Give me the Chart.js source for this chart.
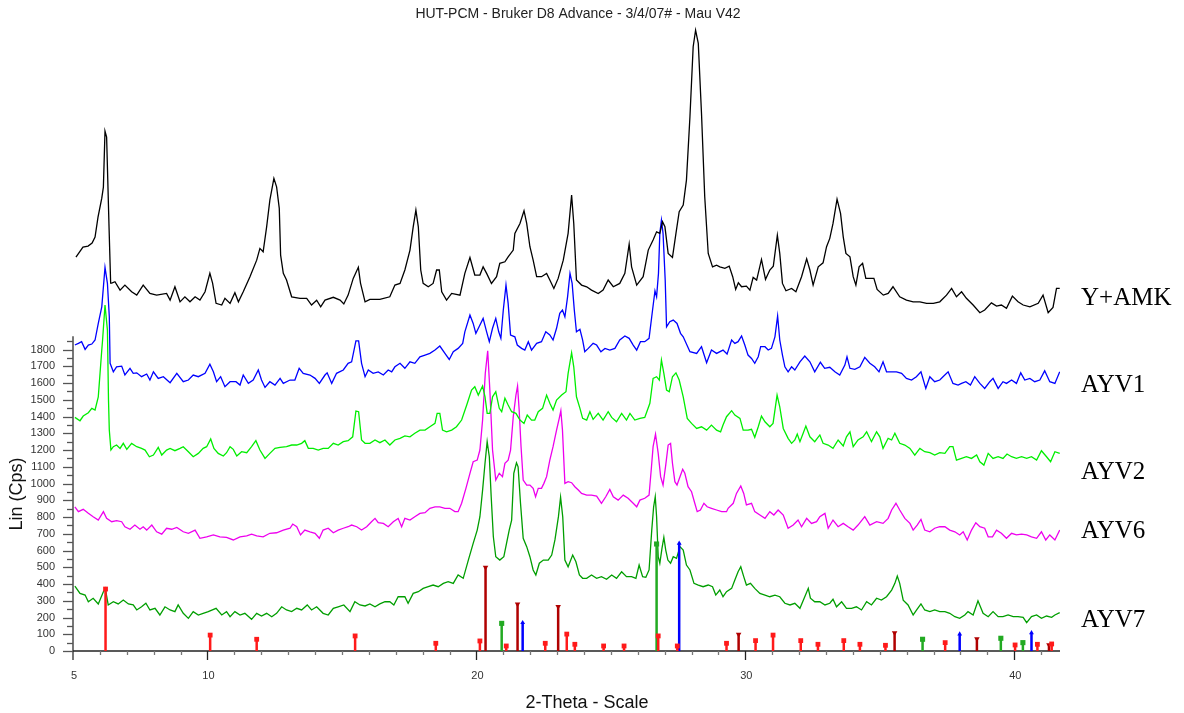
<!DOCTYPE html>
<html>
<head>
<meta charset="utf-8">
<script src="https://cdn.jsdelivr.net/npm/chart.js@4/dist/chart.umd.min.js"></script>
<style>
  html, body { margin: 0; padding: 0; background: #fff; }
  #wrap { position: relative; width: 1184px; height: 713px; }
</style>
</head>
<body>
<div id="wrap"><canvas id="xrdChart" width="1184" height="713"></canvas></div>
<script>
// ============================================
// XRD — HUT-PCM Bruker D8 Advance (stacked scans)
// ============================================

const chartTitle = 'HUT-PCM - Bruker D8 Advance - 3/4/07# - Mau V42';
const xTitle = '2-Theta - Scale';
const yTitle = 'Lin (Cps)';
const sampleNames = ['Y+AMK', 'AYV1', 'AYV2', 'AYV6', 'AYV7'];
const xTickLabels = [5, 10, 20, 30, 40];
const yTickLabels = [0, 100, 200, 300, 400, 500, 600, 700, 800, 900, 1000, 1100, 1200, 1300, 1400, 1500, 1600, 1700, 1800];

// [2-theta, Cps]
const scanYAMK = [[5.11,2352],[5.37,2412],[5.56,2418],[5.71,2436],[5.82,2472],[5.93,2591],[6.07,2704],[6.13,2770],[6.19,3104],[6.25,3069],[6.34,2531],[6.40,2197],[6.44,2197],[6.56,2205],[6.75,2155],[6.93,2185],[7.18,2145],[7.37,2125],[7.61,2185],[7.86,2135],[8.11,2125],[8.48,2135],[8.61,2095],[8.79,2175],[8.98,2085],[9.16,2115],[9.35,2085],[9.54,2115],[9.72,2095],[9.91,2145],[10.09,2255],[10.19,2197],[10.32,2076],[10.53,2066],[10.65,2106],[10.84,2076],[11.02,2139],[11.15,2085],[11.33,2145],[11.58,2235],[11.83,2334],[11.95,2404],[12.07,2384],[12.20,2533],[12.32,2692],[12.47,2822],[12.57,2772],[12.67,2643],[12.72,2364],[12.82,2255],[12.94,2215],[13.13,2115],[13.44,2106],[13.69,2106],[13.87,2066],[14.06,2095],[14.21,2055],[14.37,2095],[14.68,2112],[14.93,2095],[15.07,2072],[15.23,2125],[15.42,2225],[15.61,2291],[15.69,2197],[15.86,2085],[16.04,2100],[16.41,2100],[16.78,2115],[16.97,2185],[17.16,2195],[17.34,2275],[17.53,2394],[17.65,2533],[17.75,2633],[17.84,2533],[17.93,2275],[18.02,2195],[18.21,2175],[18.39,2195],[18.52,2275],[18.62,2275],[18.71,2145],[18.89,2095],[19.08,2135],[19.39,2125],[19.57,2255],[19.76,2350],[19.94,2245],[20.13,2245],[20.25,2294],[20.38,2255],[20.56,2195],[20.75,2235],[20.87,2315],[21.06,2324],[21.18,2354],[21.37,2394],[21.43,2494],[21.62,2553],[21.77,2629],[21.87,2553],[21.99,2414],[22.11,2334],[22.24,2235],[22.42,2235],[22.61,2255],[22.73,2215],[22.88,2165],[23.04,2225],[23.23,2334],[23.41,2494],[23.54,2722],[23.62,2553],[23.72,2215],[23.91,2185],[24.10,2175],[24.28,2155],[24.53,2135],[24.71,2155],[24.90,2215],[25.09,2175],[25.33,2195],[25.52,2255],[25.68,2430],[25.77,2294],[25.96,2185],[26.20,2235],[26.39,2394],[26.57,2454],[26.70,2503],[26.82,2494],[26.92,2563],[27.01,2533],[27.13,2374],[27.29,2350],[27.42,2494],[27.54,2623],[27.69,2663],[27.81,2812],[27.94,3190],[28.06,3608],[28.15,3707],[28.25,3628],[28.37,3210],[28.49,2712],[28.62,2374],[28.78,2294],[28.93,2304],[29.05,2294],[29.24,2285],[29.40,2298],[29.53,2235],[29.64,2159],[29.74,2199],[29.86,2175],[30.04,2179],[30.17,2155],[30.29,2231],[30.42,2215],[30.60,2338],[30.75,2219],[30.91,2275],[31.04,2298],[31.19,2483],[31.28,2374],[31.38,2195],[31.51,2151],[31.72,2165],[31.88,2145],[32.09,2235],[32.28,2342],[32.40,2275],[32.52,2185],[32.71,2294],[32.89,2318],[33.02,2414],[33.14,2464],[33.26,2553],[33.41,2698],[33.54,2613],[33.64,2473],[33.74,2374],[33.89,2354],[34.01,2235],[34.11,2185],[34.23,2294],[34.36,2315],[34.48,2225],[34.63,2225],[34.78,2225],[34.90,2159],[35.13,2125],[35.31,2135],[35.49,2175],[35.74,2115],[35.99,2095],[36.24,2085],[36.49,2085],[36.74,2076],[36.99,2076],[37.23,2085],[37.48,2125],[37.67,2165],[37.85,2115],[38.04,2145],[38.22,2106],[38.47,2066],[38.72,2020],[38.90,2036],[39.15,2079],[39.34,2060],[39.52,2066],[39.71,2046],[39.93,2119],[40.14,2085],[40.33,2066],[40.58,2055],[40.89,2076],[41.07,2125],[41.26,2020],[41.44,2052],[41.57,2165],[41.69,2165]];

const scanAYV1 = [[5.07,1827],[5.20,1837],[5.32,1847],[5.45,1801],[5.57,1827],[5.70,1833],[5.82,1857],[5.94,1956],[6.07,2055],[6.19,2291],[6.28,2195],[6.35,1996],[6.38,1718],[6.50,1667],[6.62,1697],[6.81,1701],[6.93,1648],[7.12,1688],[7.24,1658],[7.37,1661],[7.55,1638],[7.74,1654],[7.86,1618],[7.99,1667],[8.17,1628],[8.36,1638],[8.61,1602],[8.86,1658],[9.10,1608],[9.29,1618],[9.47,1648],[9.66,1638],[9.91,1658],[10.09,1712],[10.22,1667],[10.34,1608],[10.49,1638],[10.65,1578],[10.84,1608],[11.06,1608],[11.21,1588],[11.33,1648],[11.52,1598],[11.70,1618],[11.89,1678],[12.01,1618],[12.14,1574],[12.32,1608],[12.51,1588],[12.70,1628],[12.82,1598],[13.07,1618],[13.25,1618],[13.41,1688],[13.56,1658],[13.81,1648],[14.00,1628],[14.16,1598],[14.37,1648],[14.45,1661],[14.62,1598],[14.80,1658],[15.05,1678],[15.23,1718],[15.36,1727],[15.52,1852],[15.62,1852],[15.73,1718],[15.86,1638],[15.98,1678],[16.16,1658],[16.35,1667],[16.54,1648],[16.72,1678],[16.85,1667],[16.97,1697],[17.16,1718],[17.34,1688],[17.53,1727],[17.71,1718],[17.90,1757],[18.09,1767],[18.27,1777],[18.46,1797],[18.64,1821],[18.83,1777],[18.99,1741],[19.14,1787],[19.32,1807],[19.49,1837],[19.57,1906],[19.76,2006],[19.88,1956],[19.98,1897],[20.10,1936],[20.25,1986],[20.38,1906],[20.48,1847],[20.60,1927],[20.72,1986],[20.83,1906],[20.91,1867],[21.00,2036],[21.10,2185],[21.18,2076],[21.27,1887],[21.43,1876],[21.52,1827],[21.68,1807],[21.80,1797],[21.93,1847],[22.05,1797],[22.24,1837],[22.42,1847],[22.58,1906],[22.73,1887],[22.85,1857],[22.98,1927],[23.10,2016],[23.20,2036],[23.29,1996],[23.39,2115],[23.48,2255],[23.56,2195],[23.64,2036],[23.72,1906],[23.85,1921],[23.95,1857],[24.03,1787],[24.16,1807],[24.34,1837],[24.47,1827],[24.63,1787],[24.78,1807],[24.96,1797],[25.15,1807],[25.33,1857],[25.52,1881],[25.68,1867],[25.83,1827],[25.96,1797],[26.10,1847],[26.26,1847],[26.42,1867],[26.55,2036],[26.64,2151],[26.70,2115],[26.77,2255],[26.82,2494],[26.88,2573],[26.94,2494],[27.02,2215],[27.07,1936],[27.19,1966],[27.32,1976],[27.46,1956],[27.59,1897],[27.69,1876],[27.94,1787],[28.19,1777],[28.37,1817],[28.56,1721],[28.74,1797],[28.93,1777],[29.17,1797],[29.32,1773],[29.49,1857],[29.61,1837],[29.73,1847],[29.86,1881],[29.98,1827],[30.10,1767],[30.23,1747],[30.35,1718],[30.48,1757],[30.57,1817],[30.73,1817],[30.85,1797],[30.97,1807],[31.10,1876],[31.20,2000],[31.28,1857],[31.38,1767],[31.47,1697],[31.59,1667],[31.72,1697],[31.84,1678],[32.03,1727],[32.21,1761],[32.40,1727],[32.58,1667],[32.79,1724],[32.95,1688],[33.14,1694],[33.33,1667],[33.51,1648],[33.70,1707],[33.78,1757],[33.89,1688],[34.07,1682],[34.26,1697],[34.44,1753],[34.63,1718],[34.81,1697],[34.97,1667],[35.12,1727],[35.25,1667],[35.44,1667],[35.62,1667],[35.81,1658],[35.99,1628],[36.18,1618],[36.36,1638],[36.53,1667],[36.71,1568],[36.86,1638],[37.04,1608],[37.23,1618],[37.35,1638],[37.54,1667],[37.72,1598],[37.91,1588],[38.04,1598],[38.20,1608],[38.37,1588],[38.53,1638],[38.72,1598],[38.90,1568],[39.09,1608],[39.21,1628],[39.40,1568],[39.58,1608],[39.71,1598],[39.90,1618],[40.08,1598],[40.24,1661],[40.39,1618],[40.58,1628],[40.76,1608],[40.95,1618],[41.13,1673],[41.32,1608],[41.51,1598],[41.69,1667]];

const scanAYV2 = [[5.07,1395],[5.26,1375],[5.38,1403],[5.57,1423],[5.70,1449],[5.82,1439],[5.94,1518],[6.07,1797],[6.10,1857],[6.19,2066],[6.28,1916],[6.32,1498],[6.35,1319],[6.41,1200],[6.50,1220],[6.62,1230],[6.75,1210],[6.87,1240],[7.00,1204],[7.18,1240],[7.37,1220],[7.55,1210],[7.68,1200],[7.84,1160],[7.99,1170],[8.17,1216],[8.30,1170],[8.48,1200],[8.61,1210],[8.79,1196],[8.98,1210],[9.10,1220],[9.29,1190],[9.47,1160],[9.66,1180],[9.84,1210],[9.97,1220],[10.12,1266],[10.24,1210],[10.40,1180],[10.59,1164],[10.71,1184],[10.84,1220],[10.96,1204],[11.09,1164],[11.27,1190],[11.46,1184],[11.64,1220],[11.80,1256],[11.95,1200],[12.14,1150],[12.32,1180],[12.51,1210],[12.70,1216],[12.94,1220],[13.13,1230],[13.32,1230],[13.50,1240],[13.62,1256],[13.75,1210],[13.93,1210],[14.12,1200],[14.30,1210],[14.49,1210],[14.68,1240],[14.86,1230],[15.05,1250],[15.23,1256],[15.40,1279],[15.52,1433],[15.62,1429],[15.73,1260],[15.86,1240],[16.04,1240],[16.23,1260],[16.41,1244],[16.60,1260],[16.78,1230],[16.97,1260],[17.16,1270],[17.34,1284],[17.53,1279],[17.71,1300],[17.90,1319],[18.09,1319],[18.27,1339],[18.46,1359],[18.54,1419],[18.64,1419],[18.74,1319],[18.89,1309],[19.08,1319],[19.26,1339],[19.45,1379],[19.64,1469],[19.82,1558],[19.94,1578],[20.07,1528],[20.23,1582],[20.32,1518],[20.40,1419],[20.50,1419],[20.60,1518],[20.72,1548],[20.85,1449],[20.94,1429],[21.06,1509],[21.18,1469],[21.31,1429],[21.47,1419],[21.62,1379],[21.77,1359],[21.89,1409],[22.05,1379],[22.17,1379],[22.30,1429],[22.46,1449],[22.61,1528],[22.73,1479],[22.85,1439],[22.98,1498],[23.17,1528],[23.33,1548],[23.41,1658],[23.54,1781],[23.62,1697],[23.72,1518],[23.85,1449],[23.95,1389],[24.10,1379],[24.22,1429],[24.34,1383],[24.53,1419],[24.71,1379],[24.90,1429],[25.03,1395],[25.21,1369],[25.40,1419],[25.58,1379],[25.71,1419],[25.89,1379],[26.08,1389],[26.26,1395],[26.45,1479],[26.57,1628],[26.70,1638],[26.80,1618],[26.88,1737],[26.97,1658],[27.07,1558],[27.17,1548],[27.29,1638],[27.42,1661],[27.54,1618],[27.69,1518],[27.84,1389],[28.00,1359],[28.19,1329],[28.37,1339],[28.56,1319],[28.74,1349],[28.93,1319],[29.08,1309],[29.17,1349],[29.30,1399],[29.49,1435],[29.61,1409],[29.80,1389],[29.92,1319],[30.10,1319],[30.23,1324],[30.35,1276],[30.48,1339],[30.60,1403],[30.73,1369],[30.91,1339],[31.03,1359],[31.18,1528],[31.28,1458],[31.41,1329],[31.59,1270],[31.72,1240],[31.84,1260],[31.93,1295],[32.03,1250],[32.15,1300],[32.25,1343],[32.40,1279],[32.58,1250],[32.77,1290],[32.89,1240],[33.08,1230],[33.26,1210],[33.45,1260],[33.64,1224],[33.76,1279],[33.89,1309],[34.01,1220],[34.19,1260],[34.38,1279],[34.51,1309],[34.69,1250],[34.88,1309],[35.00,1279],[35.12,1210],[35.31,1270],[35.44,1260],[35.56,1300],[35.74,1240],[35.93,1230],[36.12,1210],[36.30,1170],[36.49,1210],[36.67,1190],[36.86,1184],[37.04,1170],[37.23,1184],[37.42,1180],[37.60,1220],[37.72,1220],[37.85,1140],[38.04,1150],[38.22,1160],[38.41,1150],[38.60,1170],[38.72,1130],[38.87,1110],[39.03,1180],[39.21,1150],[39.40,1160],[39.58,1150],[39.73,1176],[39.90,1160],[40.08,1150],[40.27,1160],[40.46,1150],[40.64,1160],[40.83,1140],[41.01,1196],[41.20,1160],[41.35,1130],[41.51,1190],[41.69,1180]];

const scanAYV6 = [[5.07,861],[5.20,832],[5.38,846],[5.57,822],[5.75,802],[5.94,782],[6.13,832],[6.25,792],[6.44,772],[6.62,778],[6.81,772],[6.93,742],[7.12,727],[7.30,752],[7.49,727],[7.61,742],[7.74,722],[7.93,752],[8.11,712],[8.30,698],[8.48,733],[8.67,727],[8.86,738],[9.10,712],[9.29,703],[9.54,722],[9.72,673],[9.97,682],[10.22,693],[10.46,682],[10.71,679],[10.96,663],[11.21,682],[11.46,687],[11.64,698],[11.83,687],[12.07,682],[12.32,703],[12.57,706],[12.82,722],[13.07,733],[13.17,758],[13.32,742],[13.46,693],[13.62,722],[13.81,712],[14.00,703],[14.16,673],[14.30,722],[14.49,733],[14.68,706],[14.86,722],[15.05,733],[15.23,742],[15.36,752],[15.55,742],[15.73,722],[15.92,742],[16.10,772],[16.23,792],[16.35,766],[16.54,762],[16.72,742],[16.91,772],[17.09,792],[17.22,742],[17.34,792],[17.53,782],[17.71,802],[17.90,822],[18.09,826],[18.27,852],[18.46,861],[18.64,861],[18.83,852],[19.01,852],[19.20,832],[19.32,832],[19.45,882],[19.61,971],[19.76,1061],[19.88,1130],[20.03,1140],[20.13,1200],[20.23,1379],[20.33,1658],[20.42,1793],[20.50,1558],[20.60,1200],[20.72,1021],[20.85,1061],[20.97,1041],[21.06,1121],[21.18,1140],[21.27,1200],[21.37,1399],[21.47,1528],[21.53,1582],[21.59,1439],[21.66,1220],[21.74,1021],[21.87,991],[21.99,991],[22.11,971],[22.20,921],[22.30,971],[22.42,971],[22.51,1001],[22.61,1041],[22.73,1140],[22.85,1220],[22.98,1319],[23.08,1389],[23.14,1435],[23.20,1319],[23.29,1001],[23.41,1011],[23.54,1005],[23.66,981],[23.79,961],[23.91,941],[24.10,931],[24.28,931],[24.47,925],[24.65,882],[24.81,921],[24.96,965],[25.09,921],[25.27,901],[25.46,931],[25.64,912],[25.83,882],[25.96,861],[26.08,901],[26.26,912],[26.42,931],[26.51,1100],[26.57,1220],[26.66,1295],[26.76,1180],[26.85,1041],[26.94,991],[27.04,1110],[27.13,1230],[27.22,1240],[27.29,1121],[27.38,1011],[27.46,991],[27.57,1041],[27.67,1085],[27.75,1061],[27.87,981],[28.00,951],[28.12,882],[28.21,832],[28.33,842],[28.46,882],[28.58,861],[28.74,852],[28.93,842],[29.12,832],[29.30,832],[29.36,852],[29.55,882],[29.67,941],[29.83,985],[29.94,941],[30.04,872],[30.23,882],[30.35,832],[30.54,812],[30.73,792],[30.91,832],[31.06,812],[31.22,842],[31.41,812],[31.59,733],[31.78,752],[31.96,782],[32.09,742],[32.28,792],[32.46,762],[32.65,772],[32.77,802],[32.96,822],[33.08,733],[33.26,782],[33.45,742],[33.64,762],[33.82,742],[34.01,722],[34.19,752],[34.44,802],[34.63,752],[34.88,772],[35.12,762],[35.31,792],[35.44,842],[35.60,882],[35.74,842],[35.93,792],[36.12,762],[36.24,722],[36.39,752],[36.53,786],[36.67,722],[36.86,712],[37.04,733],[37.23,742],[37.42,742],[37.60,722],[37.79,712],[37.97,693],[38.10,712],[38.25,663],[38.41,722],[38.57,766],[38.72,742],[38.90,733],[39.03,682],[39.19,682],[39.34,722],[39.52,703],[39.71,673],[39.90,703],[40.08,693],[40.27,698],[40.46,693],[40.64,682],[40.83,673],[41.01,712],[41.17,663],[41.32,693],[41.51,663],[41.69,722]];

const scanAYV7 = [[5.07,388],[5.26,344],[5.45,334],[5.57,294],[5.75,315],[5.94,281],[6.13,354],[6.20,374],[6.31,275],[6.50,294],[6.68,281],[6.87,304],[7.06,281],[7.24,275],[7.37,245],[7.55,264],[7.71,285],[7.86,245],[8.05,255],[8.23,215],[8.42,264],[8.61,245],[8.79,235],[8.91,275],[9.10,225],[9.29,195],[9.47,235],[9.66,215],[9.84,225],[10.03,235],[10.32,255],[10.53,215],[10.71,235],[10.84,205],[11.02,235],[11.21,215],[11.39,225],[11.64,189],[11.83,225],[12.01,209],[12.20,225],[12.39,205],[12.57,225],[12.76,264],[12.94,245],[13.13,235],[13.32,255],[13.50,245],[13.71,275],[13.87,245],[14.06,264],[14.30,225],[14.49,215],[14.68,255],[14.86,264],[15.07,275],[15.30,235],[15.48,294],[15.67,275],[15.86,269],[16.04,281],[16.23,264],[16.41,281],[16.60,294],[16.78,294],[16.93,275],[17.09,324],[17.34,324],[17.46,285],[17.65,344],[17.84,354],[18.02,374],[18.21,384],[18.39,394],[18.58,384],[18.77,404],[18.95,414],[19.14,404],[19.32,454],[19.51,434],[19.70,543],[19.88,643],[20.03,722],[20.13,802],[20.23,961],[20.32,1121],[20.40,1250],[20.48,1160],[20.55,921],[20.63,682],[20.72,563],[20.87,543],[21.02,563],[21.12,643],[21.22,722],[21.31,782],[21.39,1061],[21.49,1124],[21.55,1100],[21.64,882],[21.74,673],[21.87,623],[21.99,563],[22.11,484],[22.21,454],[22.34,524],[22.49,543],[22.67,543],[22.80,573],[22.92,663],[23.05,802],[23.13,918],[23.21,802],[23.29,543],[23.41,503],[23.58,573],[23.70,533],[23.83,454],[23.95,434],[24.10,434],[24.28,454],[24.47,434],[24.65,444],[24.84,428],[25.03,454],[25.21,434],[25.40,473],[25.58,444],[25.77,444],[25.93,434],[26.05,513],[26.18,444],[26.30,440],[26.42,484],[26.52,722],[26.59,861],[26.65,921],[26.70,802],[26.76,563],[26.82,524],[26.90,613],[26.97,679],[27.04,603],[27.12,543],[27.22,524],[27.32,563],[27.44,553],[27.57,623],[27.69,603],[27.81,513],[27.94,484],[28.09,404],[28.25,394],[28.43,384],[28.62,394],[28.78,384],[28.90,334],[29.05,364],[29.17,324],[29.30,354],[29.49,374],[29.61,424],[29.73,473],[29.83,503],[29.94,444],[30.04,394],[30.19,404],[30.35,374],[30.54,344],[30.73,334],[30.91,324],[31.10,334],[31.28,324],[31.47,285],[31.66,275],[31.84,285],[32.03,255],[32.21,324],[32.34,374],[32.42,315],[32.58,294],[32.77,294],[32.96,275],[33.14,285],[33.26,309],[33.39,264],[33.58,294],[33.76,255],[33.95,255],[34.13,264],[34.32,245],[34.51,294],[34.69,275],[34.88,315],[35.06,304],[35.25,324],[35.44,364],[35.56,404],[35.65,448],[35.74,404],[35.87,304],[36.05,275],[36.24,215],[36.37,245],[36.53,281],[36.67,245],[36.86,235],[37.04,245],[37.23,235],[37.42,235],[37.60,225],[37.79,205],[37.97,195],[38.16,215],[38.28,235],[38.47,215],[38.65,300],[38.84,225],[39.03,205],[39.21,235],[39.40,205],[39.58,205],[39.77,215],[39.96,205],[40.14,205],[40.33,201],[40.46,169],[40.64,205],[40.83,215],[41.01,195],[41.20,209],[41.39,201],[41.51,215],[41.69,229]];

// reference patterns (position, height)
const refRed = [[6.21,370],[10.10,95],[11.83,70],[15.49,90],[18.49,46],[20.13,60],[21.11,30],[22.56,46],[23.36,101],[23.66,40],[24.73,30],[25.49,30],[26.76,90],[27.47,30],[29.30,46],[30.38,62],[31.03,95],[32.06,62],[32.70,40],[33.66,62],[34.26,40],[35.21,34],[37.43,50],[40.03,36],[40.86,40],[41.39,42]];
const refDarkRed = [[20.34,500],[21.53,280],[23.04,265],[29.75,100],[35.55,109],[38.61,73],[41.29,36]];
const refGreen = [[20.94,165],[26.70,639],[36.59,70],[39.50,76],[40.32,50]];
const refBlue = [[21.72,169],[27.54,643],[37.97,101],[40.64,109]];

const SANS = '"Liberation Sans", Arial, sans-serif';
const SERIF = '"Liberation Serif", "Times New Roman", serif';

function scanDataset(label, pts, color, order) {
  return {
    label,
    data: pts.map(p => ({ x: p[0], y: p[1] })),
    borderColor: color,
    borderWidth: 1.3,
    pointRadius: 0,
    tension: 0,
    fill: false,
    order
  };
}

// every stick: base -> top, then a gap
function stickDataset(label, sticks, color, width, style, radius, rotation) {
  const data = [];
  sticks.forEach(([t, h]) => {
    data.push({ x: t, y: 0 }, { x: t, y: h }, { x: t, y: null });
  });
  return {
    label,
    data,
    borderColor: color,
    borderWidth: width,
    spanGaps: false,
    tension: 0,
    pointStyle: style,
    pointRotation: rotation || 0,
    pointRadius: ctx => (ctx.raw && ctx.raw.y > 0 ? radius : 0),
    pointBackgroundColor: color,
    pointBorderColor: color,
    pointBorderWidth: 0,
    order: 0
  };
}

// axes, ticks and texts drawn with the chart's own scales
const xrdFrame = {
  id: 'xrdFrame',
  beforeDatasetsDraw(chart) {
    const { ctx, scales: { x, y } } = chart;
    const x0 = x.getPixelForValue(5);
    const y0 = y.getPixelForValue(0);
    ctx.save();
    // y axis (only up to ~1880)
    ctx.strokeStyle = '#555';
    ctx.lineWidth = 1.6;
    ctx.beginPath();
    ctx.moveTo(x0, y.getPixelForValue(1880));
    ctx.lineTo(x0, y0 + 9);
    ctx.stroke();
    ctx.lineWidth = 1.3;
    for (let v = 0; v <= 1850; v += 50) {
      const py = Math.round(y.getPixelForValue(v)) + 0.5;
      const len = v % 100 === 0 ? 10 : 6;
      ctx.beginPath();
      ctx.moveTo(x0 - len, py);
      ctx.lineTo(x0, py);
      ctx.stroke();
    }
    // x axis
    ctx.strokeStyle = '#222';
    ctx.lineWidth = 1.5;
    ctx.beginPath();
    ctx.moveTo(x0, y0);
    ctx.lineTo(x.getPixelForValue(41.7), y0);
    ctx.stroke();
    ctx.strokeStyle = '#666';
    ctx.lineWidth = 1.3;
    for (let t = 6; t <= 41; t++) {
      const px = Math.round(x.getPixelForValue(t)) + 0.5;
      const len = xTickLabels.includes(t) ? 9 : 4;
      ctx.strokeStyle = xTickLabels.includes(t) ? '#222' : '#777';
      ctx.beginPath();
      ctx.moveTo(px, y0);
      ctx.lineTo(px, y0 + len);
      ctx.stroke();
    }
    ctx.restore();
  },
  afterDraw(chart) {
    const { ctx, scales: { x, y }, chartArea } = chart;
    ctx.save();
    ctx.fillStyle = '#333';
    ctx.font = '11px ' + SANS;
    ctx.textAlign = 'right';
    ctx.textBaseline = 'middle';
    yTickLabels.forEach(v => ctx.fillText(String(v), x.getPixelForValue(5) - 18, y.getPixelForValue(v)));
    ctx.textAlign = 'center';
    xTickLabels.forEach(t => ctx.fillText(String(t), x.getPixelForValue(t) + 1, y.getPixelForValue(0) + 25));

    ctx.fillStyle = '#222';
    ctx.font = '14px ' + SANS;
    ctx.fillText(chartTitle, 578, 14);

    ctx.font = '18px ' + SANS;
    ctx.fillStyle = '#111';
    ctx.fillText(xTitle, 587, 703);
    ctx.save();
    ctx.translate(17, 494);
    ctx.rotate(-Math.PI / 2);
    ctx.fillText(yTitle, 0, 0);
    ctx.restore();

    // sample names on the right
    ctx.fillStyle = '#000';
    ctx.font = '25px ' + SERIF;
    ctx.textAlign = 'left';
    const labelY = [298, 385, 472, 531, 620];
    sampleNames.forEach((name, i) => ctx.fillText(name, chartArea.right + 21, labelY[i]));
    ctx.restore();
  }
};

new Chart(document.getElementById('xrdChart'), {
  type: 'line',
  data: {
    datasets: [
      stickDataset('ref 1', refRed, '#ff1a1a', 2.5, 'rect', 3.4),
      stickDataset('ref 2', refDarkRed, '#b00000', 2.5, 'triangle', 3.2, 180),
      stickDataset('ref 3', refGreen, '#22aa22', 2.5, 'rect', 3.6),
      stickDataset('ref 4', refBlue, '#0000ff', 2.5, 'triangle', 2.8),
      scanDataset(sampleNames[0], scanYAMK, '#000000', 1),
      scanDataset(sampleNames[1], scanAYV1, '#0000ff', 2),
      scanDataset(sampleNames[2], scanAYV2, '#00ee00', 3),
      scanDataset(sampleNames[3], scanAYV6, '#ee00ee', 4),
      scanDataset(sampleNames[4], scanAYV7, '#009e00', 5)
    ]
  },
  options: {
    responsive: false,
    animation: false,
    layout: { padding: { left: 73, right: 124, top: 23, bottom: 62 } },
    scales: {
      x: { type: 'linear', min: 5, max: 41.7, display: false },
      y: { min: 0, max: 3750, display: false }
    },
    plugins: {
      legend: { display: false },
      tooltip: { enabled: false },
      title: { display: false }
    }
  },
  plugins: [xrdFrame]
});
</script>
</body>
</html>
